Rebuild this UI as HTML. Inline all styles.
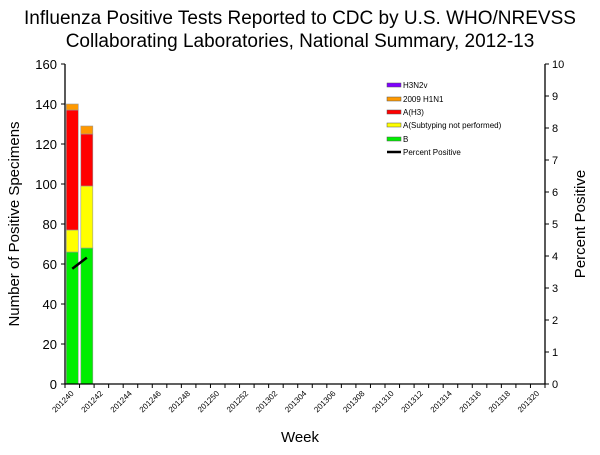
<!DOCTYPE html>
<html><head><meta charset="utf-8"><style>
body{margin:0;background:#fff;font-family:"Liberation Sans",Arial,sans-serif}
text{font-family:"Liberation Sans",Arial,sans-serif}
</style></head><body>
<svg width="600" height="450" xmlns="http://www.w3.org/2000/svg">
<text x="300" y="24" font-size="19" text-anchor="middle">Influenza Positive Tests Reported to CDC by U.S. WHO/NREVSS</text>
<text x="300" y="47" font-size="19" text-anchor="middle">Collaborating Laboratories, National Summary, 2012-13</text>
<g id="plot"></g>
<text x="300" y="442" font-size="15" text-anchor="middle">Week</text>
<text transform="translate(19,224) rotate(-90)" font-size="15" text-anchor="middle">Number of Positive Specimens</text>
<text transform="translate(585,224) rotate(-90)" font-size="15" text-anchor="middle">Percent Positive</text>
<g font-size="8">
<g><rect x="387" y="83" width="14" height="4" fill="#7f00ff" stroke="#555" stroke-width="0.5"/><text x="403" y="88">H3N2v</text></g>
<g><rect x="387" y="97" width="14" height="4" fill="#ff9900" stroke="#555" stroke-width="0.5"/><text x="403" y="102">2009 H1N1</text></g>
<g><rect x="387" y="110" width="14" height="4" fill="#ff0000" stroke="#555" stroke-width="0.5"/><text x="403" y="115">A(H3)</text></g>
<g><rect x="387" y="123" width="14" height="4" fill="#ffff00" stroke="#555" stroke-width="0.5"/><text x="403" y="128">A(Subtyping not performed)</text></g>
<g><rect x="387" y="137" width="14" height="4" fill="#00ee00" stroke="#555" stroke-width="0.5"/><text x="403" y="142">B</text></g>
<g><line x1="387" y1="152" x2="401" y2="152" stroke="#000" stroke-width="2.5"/><text x="403" y="155">Percent Positive</text></g>
</g>
</svg>
<script>
const weeks=[];
for(let w=40;w<=52;w++)weeks.push('2012'+w);
for(let w=1;w<=20;w++)weeks.push('2013'+(w<10?'0'+w:w));
const seriesB=[66,68];
const seriesAUnsub=[11,31];
const seriesAH3=[60,26];
const seriesH1N1=[3,4];
const seriesH3N2v=[0,0];
const percentPositive=[3.6,3.95];
const yTicks=[0,20,40,60,80,100,120,140,160];
const y2Ticks=[0,1,2,3,4,5,6,7,8,9,10];

const NS='http://www.w3.org/2000/svg';
const g=document.getElementById('plot');
const L=65,R=545,T=64,B=384;
const bw=(R-L)/weeks.length;
const x=i=>L+bw*(i+0.5);
const y=v=>B-(v/160)*(B-T);
const y2=v=>B-(v/10)*(B-T);
function mk(tag,attrs){const e=document.createElementNS(NS,tag);for(const k in attrs)e.setAttribute(k,attrs[k]);g.appendChild(e);return e;}
const series=[[seriesB,'#00ee00','b'],[seriesAUnsub,'#ffff00','a-unsubtyped'],[seriesAH3,'#ff0000','ah3'],[seriesH1N1,'#ff9900','h1n1-2009'],[seriesH3N2v,'#7f00ff','h3n2v']];
for(let i=0;i<seriesB.length;i++){
  let base=0;
  for(const [arr,col,nm] of series){
    const v=arr[i]||0; if(v<=0)continue;
    const r=mk('rect',{x:x(i)-6,y:y(base+v),width:12,height:y(base)-y(base+v),fill:col,stroke:'#999','stroke-width':0.6});
    
    
    base+=v;
  }
}
const pts=percentPositive.map((p,i)=>x(i)+','+y2(p)).join(' ');
const pl=mk('polyline',{points:pts,fill:'none',stroke:'#000','stroke-width':2.5});


const ax=mk('path',{d:`M${L},${T}V${B}H${R}V${T}`,fill:'none',stroke:'#000','stroke-width':1.3});


yTicks.forEach(v=>{
  mk('line',{x1:L-4,x2:L,y1:y(v),y2:y(v),stroke:'#000'});
  const t=mk('text',{x:L-8,y:y(v)+5,'font-size':13,'text-anchor':'end'});t.textContent=v;
  
  
});
y2Ticks.forEach(v=>{
  mk('line',{x1:R,x2:R+4,y1:y2(v),y2:y2(v),stroke:'#000'});
  const t=mk('text',{x:R+7,y:y2(v)+4,'font-size':11});t.textContent=v;
  
  
});
for(let i=0;i<=weeks.length;i++)mk('line',{x1:L+bw*i,x2:L+bw*i,y1:B,y2:B+4,stroke:'#000'});
weeks.forEach((w,i)=>{
  if(i%2)return;
  const t=mk('text',{transform:`translate(${x(i)+2},${B+10}) rotate(-45)`,'font-size':8,'text-anchor':'end'});
  t.textContent=w;
  
  
});
</script>
</body></html>
